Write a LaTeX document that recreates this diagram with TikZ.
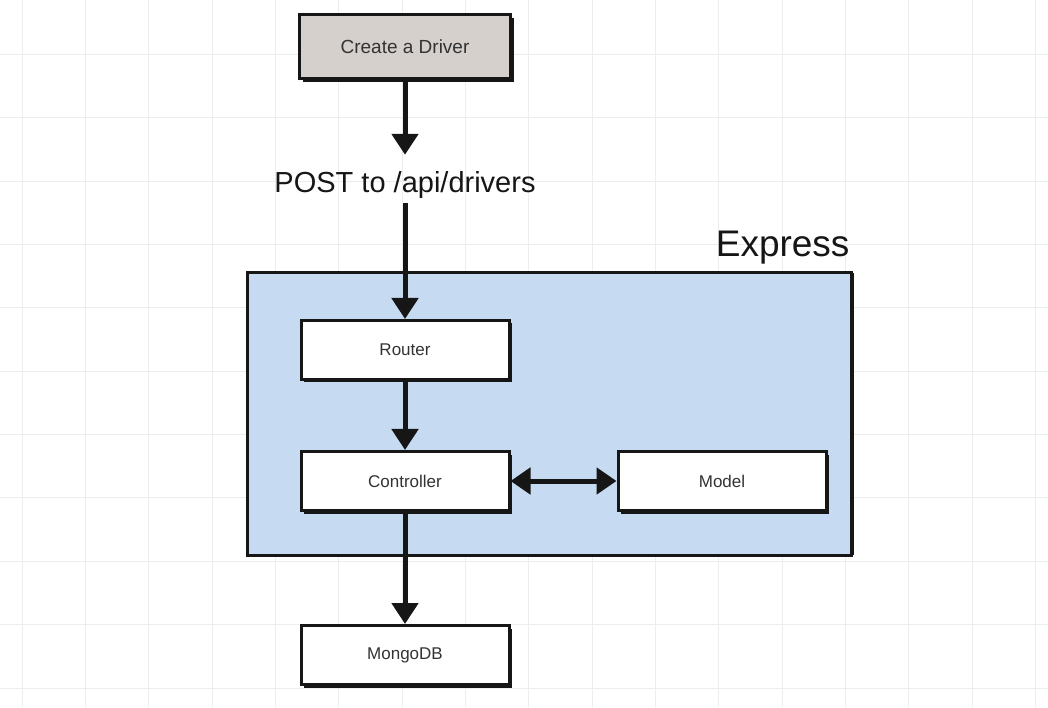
\documentclass[tikz,border=0pt]{standalone}
\usepackage{fontspec}
\setmainfont{Liberation Sans}
\usetikzlibrary{arrows.meta,shadows}
\definecolor{exblue}{RGB}{198,218,241}
\definecolor{drvgray}{RGB}{214,208,204}
\definecolor{gridgray}{RGB}{236,237,237}
\definecolor{ink}{RGB}{22,22,22}

\begin{document}
\begin{tikzpicture}[x=1pt,y=1pt,
  box/.style={draw=ink,line width=3pt,fill=white,minimum width=208pt,minimum height=59pt,
    inner sep=0pt,font=\fontsize{17}{20}\selectfont,text=black!80,
    drop shadow={shadow xshift=3pt,shadow yshift=-3pt,fill=ink,opacity=1}},
  flow/.style={line width=5pt,draw=ink,-{Triangle[width=26pt,length=21pt]}},
  twoway/.style={line width=5pt,draw=ink,{Triangle[width=26pt,length=20pt]}-{Triangle[width=26pt,length=20pt]}}]
\useasboundingbox (0,0) rectangle (1048,707);
\fill[white] (0,0) rectangle (1048,707);
\draw[gridgray,line width=1pt,xshift=22pt,yshift=19pt,step=63.35pt] (-22,-19) grid (1026,688);

\fill[exblue,draw=ink,line width=3pt] (247,152) rectangle (851,434);
\draw[ink,line width=2pt] (852.5,152) -- (852.5,434);
\node[anchor=base east,font=\fontsize{37}{40}\selectfont,text=ink] (express) at (853,450) {Express};

\node[box,fill=drvgray,minimum width=211pt,minimum height=64pt,font=\fontsize{19}{22}\selectfont] (driver) at (405,660) {Create a Driver};
\node[anchor=base,inner sep=4pt,font=\fontsize{29}{32}\selectfont,text=ink] (post) at (405,514) {POST to /api/drivers};

\node[box] (router) at (405,357) {Router};
\node[box] (controller) at (405,226) {Controller};
\node[box] (model) at (722,226) {Model};
\node[box] (mongo) at (405,52) {MongoDB};

\draw[flow,shorten >=13pt] (driver) -- (post);
\draw[flow] (post) -- (router);
\draw[flow] (router) -- (controller);
\draw[twoway] (controller) -- (model);
\draw[flow] (controller) -- (mongo);
\end{tikzpicture}
\end{document}
